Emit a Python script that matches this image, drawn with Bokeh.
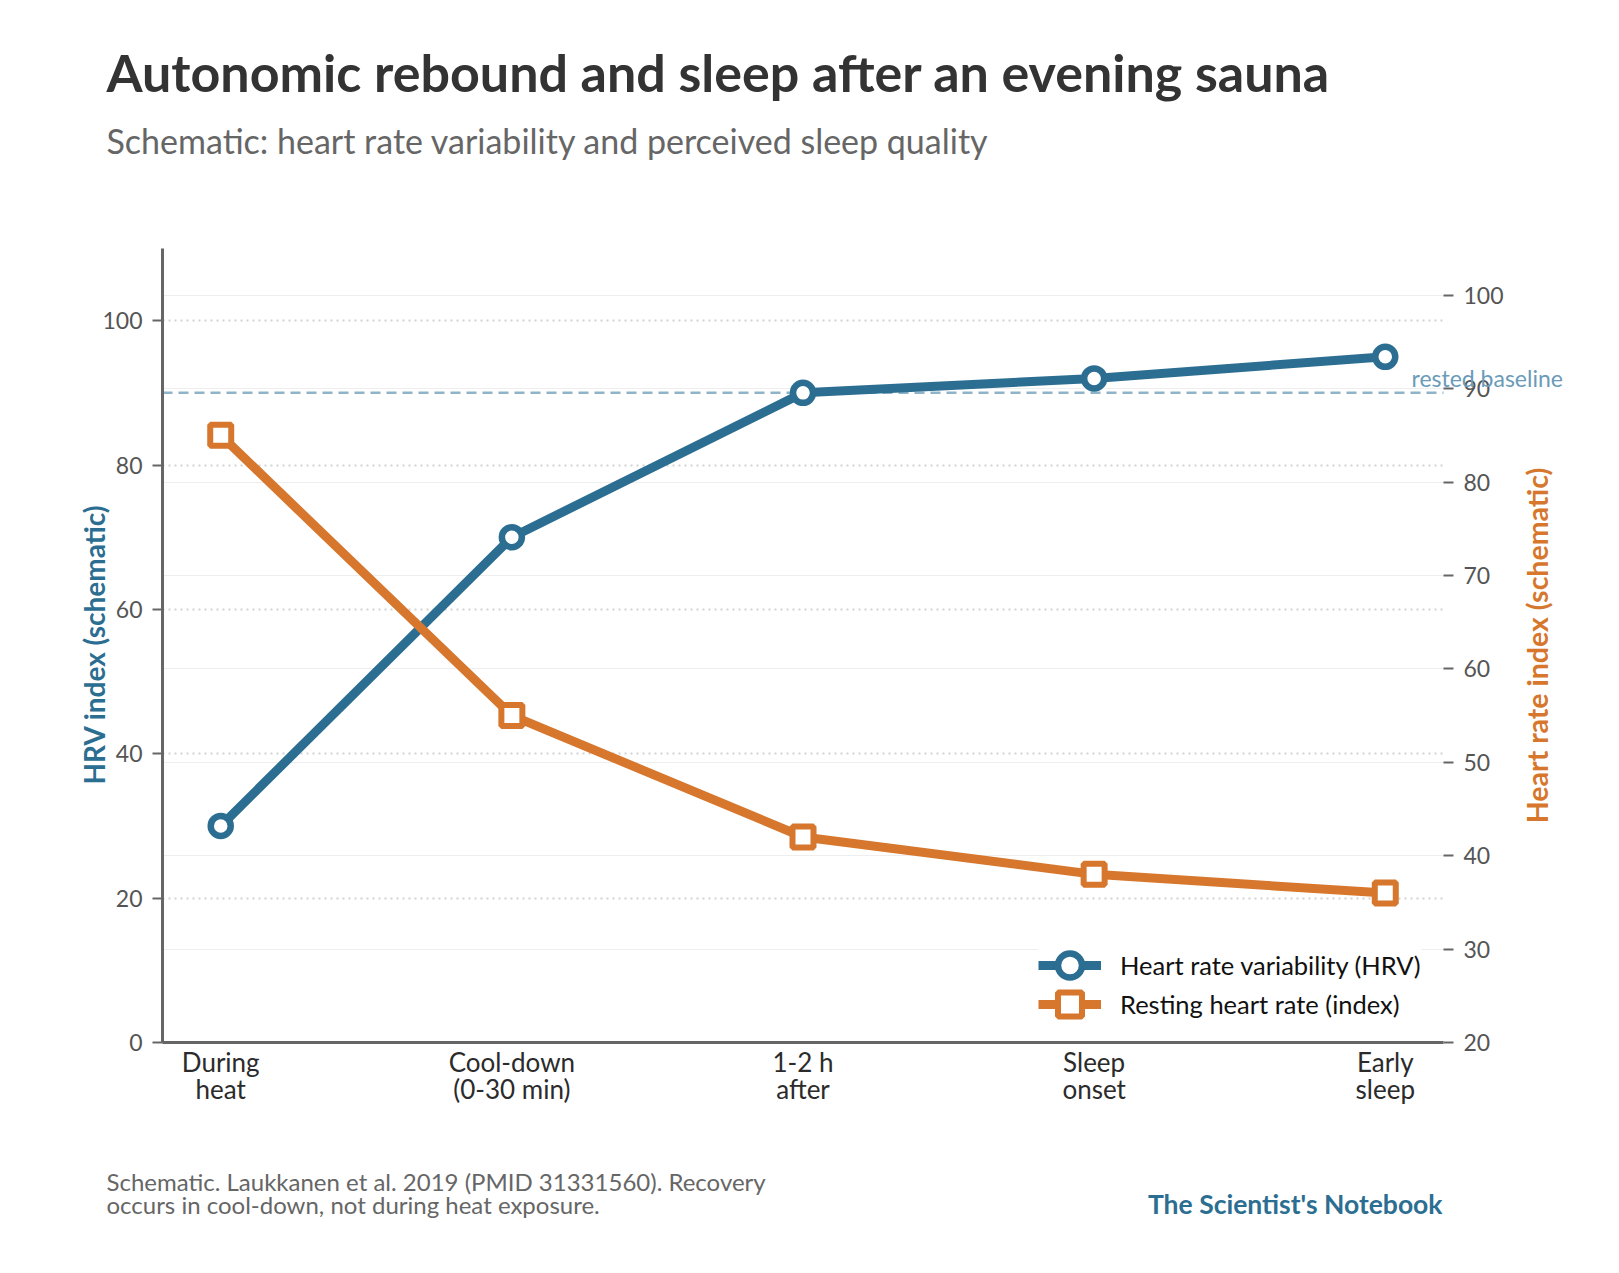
import math
from bokeh.plotting import figure
from bokeh.models import (Range1d, LinearAxis, FixedTicker, Grid, Label,
                          Legend, LegendItem, ColumnDataSource)
from bokeh.embed import file_html
from bokeh.resources import INLINE

# ---------------- data ----------------
categories = ["During\nheat", "Cool-down\n(0-30 min)", "1-2 h\nafter", "Sleep\nonset", "Early\nsleep"]
positions = [0, 1, 2, 3, 4]
hrv = [30, 70, 90, 92, 95]
resting_hr = [85, 55, 42, 38, 36]
rested_baseline = 90
left_ticks = [0, 20, 40, 60, 80, 100]
right_ticks = [20, 30, 40, 50, 60, 70, 80, 90, 100]
series_labels = ["Heart rate variability (HRV)", "Resting heart rate (index)"]

# ---------------- style / layout ----------------
BLUE = "#2c6e91"
ORANGE = "#d6772d"
FONT = "Lato"
W, H = 1612, 1266
PLOT_LEFT, PLOT_RIGHT = 162.0, 1443.0      # page pixels of the plotting area
PLOT_TOP, PLOT_BOTTOM = 248.0, 1042.0
X_MIN, X_MAX = -0.2, 4.2
HRV_MIN, HRV_MAX = 0, 110
HR_MIN, HR_MAX = 20, 105

ppx = (PLOT_RIGHT - PLOT_LEFT) / (X_MAX - X_MIN)
ppy = (PLOT_BOTTOM - PLOT_TOP) / (HRV_MAX - HRV_MIN)
pph = (PLOT_BOTTOM - PLOT_TOP) / (HR_MAX - HR_MIN)
x_range = Range1d(X_MIN - PLOT_LEFT / ppx, X_MAX + (W - PLOT_RIGHT) / ppx)
y_range = Range1d(HRV_MIN - (H - PLOT_BOTTOM) / ppy, HRV_MAX + PLOT_TOP / ppy)
hr_range = Range1d(HR_MIN - (H - PLOT_BOTTOM) / pph, HR_MAX + PLOT_TOP / pph)

p = figure(width=W, height=H, output_backend="svg", toolbar_location=None,
           x_range=x_range, y_range=y_range, min_border=0,
           background_fill_color="white", border_fill_color="white",
           outline_line_color=None)
p.title.visible = False
p.extra_y_ranges = {"hr": hr_range}

# ---- bottom axis
xa = p.xaxis[0]
xa.fixed_location = HRV_MIN
xa.bounds = (X_MIN, X_MAX)
xa.ticker = FixedTicker(ticks=positions)
xa.major_label_overrides = {i: c for i, c in zip(positions, categories)}
xa.major_label_text_font = FONT
xa.major_label_text_font_size = "26px"
xa.major_label_text_color = "#2b2b2b"
xa.major_label_text_line_height = 0.86
xa.major_tick_line_color = None
xa.major_tick_out = 0
xa.minor_tick_line_color = None
xa.axis_line_color = "#666666"
xa.axis_line_width = 3
xa.major_label_standoff = 3

# ---- left axis
ya = p.yaxis[0]
ya.fixed_location = X_MIN
ya.bounds = (HRV_MIN, HRV_MAX)
ya.ticker = FixedTicker(ticks=left_ticks)
ya.major_label_text_font = FONT
ya.major_label_text_font_size = "23px"
ya.major_label_text_color = "#555555"
ya.axis_line_color = "#666666"
ya.axis_line_width = 3
ya.major_tick_line_color = "#666666"
ya.major_tick_line_width = 2
ya.major_tick_out = 10
ya.major_tick_in = 0
ya.minor_tick_line_color = None
ya.major_label_standoff = 10

# ---- right axis
right = LinearAxis(y_range_name="hr", ticker=FixedTicker(ticks=right_ticks),
                   fixed_location=X_MAX, bounds=(HR_MIN, HR_MAX))
right.axis_line_color = None
right.major_tick_line_color = "#666666"
right.major_tick_line_width = 2
right.major_tick_out = 10
right.major_tick_in = 0
right.minor_tick_line_color = None
right.major_label_text_font = FONT
right.major_label_text_font_size = "23px"
right.major_label_text_color = "#555555"
right.major_label_standoff = 10
p.add_layout(right, "right")

# ---- grids
p.xgrid.visible = False
p.ygrid.ticker = FixedTicker(ticks=left_ticks)
p.ygrid.grid_line_color = "#d2d2d2"
p.ygrid.grid_line_dash = "2 4"
p.ygrid.grid_line_width = 2
g2 = Grid(dimension=1, ticker=FixedTicker(ticks=right_ticks), y_range_name="hr",
          grid_line_color="#eeeeee", grid_line_width=1)
p.add_layout(g2)
try:
    p.ygrid.cross_bounds = (X_MIN, X_MAX)
    g2.cross_bounds = (X_MIN, X_MAX)
except AttributeError:
    p.ygrid.visible = False
    g2.visible = False
    p.segment(x0=X_MIN, x1=X_MAX, y0=left_ticks, y1=left_ticks, line_color="#d2d2d2",
              line_width=2, line_dash="2 4")
    p.segment(x0=X_MIN, x1=X_MAX, y0=right_ticks, y1=right_ticks, line_color="#eeeeee",
              line_width=1, y_range_name="hr")

# ---- rested baseline
p.segment(x0=[X_MIN], x1=[X_MAX], y0=[rested_baseline], y1=[rested_baseline],
          line_color="#8fb3c8", line_width=2.5, line_dash="10 6")

# ---- series
src = ColumnDataSource(dict(x=positions, hrv=hrv, hr=resting_hr))
l1 = p.line("x", "hrv", source=src, line_color=BLUE, line_width=9)
s1 = p.scatter("x", "hrv", source=src, marker="circle", size=20, fill_color="white",
               line_color=BLUE, line_width=6.5)
l2 = p.line("x", "hr", source=src, line_color=ORANGE, line_width=9, y_range_name="hr")
s2 = p.scatter("x", "hr", source=src, marker="square", size=21, fill_color="white",
               line_color=ORANGE, line_width=6, y_range_name="hr")

# ---- legend: one box per row so the markers can be large and the rows close
LEG_LEFT = 1038.0
LEG_ROW_CENTERS = [965.0, 1003.5]
LEG_GLYPH_H = 60
for (lab_text, rends, row_y, bg) in [(series_labels[0], [l1, s1], LEG_ROW_CENTERS[0], 1.0),
                                      (series_labels[1], [l2, s2], LEG_ROW_CENTERS[1], 0.0)]:
    lg = Legend(items=[LegendItem(label=lab_text, renderers=rends)],
                location=(LEG_LEFT, H - (row_y + LEG_GLYPH_H / 2)),
                border_line_color=None, background_fill_color="white",
                background_fill_alpha=bg, label_text_font=FONT,
                label_text_font_size="25.5px", label_text_color="#111111",
                glyph_width=63, glyph_height=LEG_GLYPH_H, spacing=0, padding=0, margin=0,
                label_standoff=19)
    p.add_layout(lg)

# ---- texts, positioned in page pixels
def xd(px):
    return X_MIN + (px - PLOT_LEFT) / ppx

def yd(py):
    return HRV_MIN + (PLOT_BOTTOM - py) / ppy

def lab(text, px, py, size, color, bold=False, align="left", baseline="middle", angle=0.0):
    p.add_layout(Label(x=xd(px), y=yd(py), text=text, text_font=FONT,
                       text_font_size=size, text_color=color,
                       text_font_style="bold" if bold else "normal",
                       text_align=align, text_baseline=baseline, angle=angle))

lab("Autonomic rebound and sleep after an evening sauna", 106, 71, "52px", "#333333", bold=True)
lab("Schematic: heart rate variability and perceived sleep quality", 106, 140, "34px", "#666666")
lab("HRV index (schematic)", 93, 644, "28px", BLUE, bold=True, align="center", angle=math.pi / 2)
lab("Heart rate index (schematic)", 1536, 645, "28.5px", ORANGE, bold=True, align="center", angle=math.pi / 2)
lab("rested baseline", 1411, 377, "23px", "#6a9bb8", baseline="alphabetic")
lab("Schematic. Laukkanen et al. 2019 (PMID 31331560). Recovery", 106, 1180.5, "24px", "#666666")
lab("occurs in cool-down, not during heat exposure.", 106, 1204, "24px", "#666666")
lab("The Scientist's Notebook", 1442, 1203, "26.5px", BLUE, bold=True, align="right")

open("out.html", "w").write(file_html(p, INLINE))
